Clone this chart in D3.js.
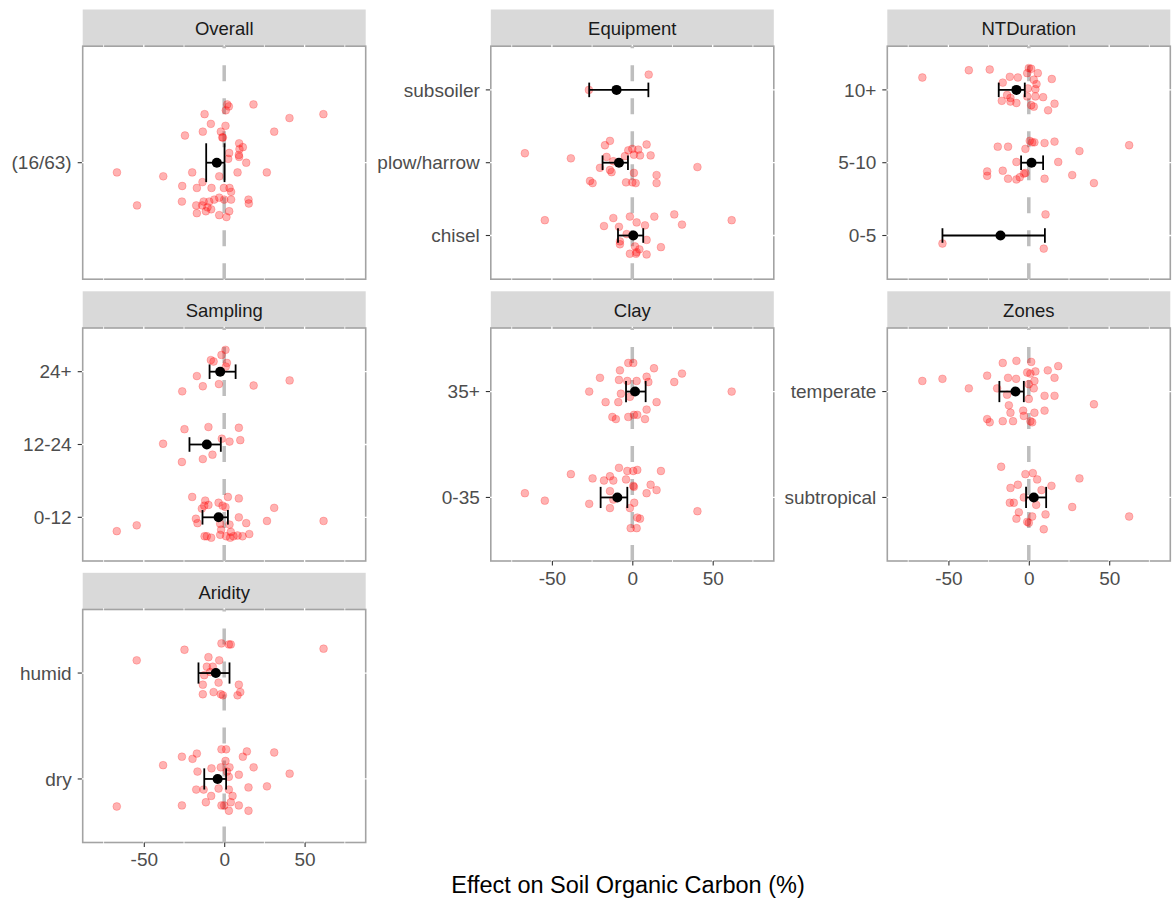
<!DOCTYPE html>
<html>
<head>
<meta charset="utf-8">
<script src="https://cdn.jsdelivr.net/npm/d3@7"></script>
<style>
  body { margin: 0; background: #fff; }
  svg { font-family: "Liberation Sans", Arial, sans-serif; }
</style>
</head>
<body>
<div id="chart"></div>
<script>
// x axis
var xDomain = [-88, 88];
var xTicks = [-50, 0, 50];
var xMinor = [-75, -25, 25, 75];

// facet titles, in layout order
var facetNames = ["Overall", "Equipment", "NTDuration", "Sampling", "Clay", "Zones", "Aridity"];

// categories (bottom to top) and mean / CI per category
var overallCats = ["(16/63)"];
var overallMean = [-4.6], overallLo = [-11.2], overallHi = [0.2];

var equipmentCats = ["chisel", "plow/harrow", "subsoiler"];
var equipmentMean = [0.6, -8.3, -9.8], equipmentLo = [-8.9, -18.5, -26.8], equipmentHi = [6.8, -2.7, 10.0];

var durationCats = ["0-5", "5-10", "10+"];
var durationMean = [-17.6, 1.7, -7.7], durationLo = [-53.7, -4.8, -18.7], durationHi = [10.0, 8.9, -2.5];

var samplingCats = ["0-12", "12-24", "24+"];
var samplingMean = [-3.5, -10.8, -2.5], samplingLo = [-13.5, -21.6, -9.1], samplingHi = [2.3, -2.1, 7.1];

var clayCats = ["0-35", "35+"];
var clayMean = [-9.3, 1.7], clayLo = [-19.7, -3.9], clayHi = [-3.1, 8.3];

var zonesCats = ["subtropical", "temperate"];
var zonesMean = [3.1, -8.3], zonesLo = [-1.7, -18.3], zonesHi = [10.8, -3.1];

var aridityCats = ["dry", "humid"];
var aridityMean = [-4.1, -5.2], aridityLo = [-12.4, -16.0], aridityHi = [1.2, 3.3];

// observations per category: [effect, vertical jitter in category units]
var overallPts = [[
  [1.9,.30],[2.9,.29],[1.0,.27],[18.2,.30],[61.7,.25],[-12.2,.25],[40.6,.23],[-8.3,.20],[0.8,.19],[-2.1,.16],
  [-13.3,.16],[-24.4,.14],[31.1,.16],[-0.8,.13],[-1.2,.13],[9.3,.10],[11.6,.08],[9.5,.07],[3.1,.05],[9.1,.04],
  [9.3,.03],[13.7,0],[2.5,.02],[8.3,-.05],[26.5,-.05],[-66.7,-.05],[-37.9,-.07],[-19.9,-.05],[-3.1,-.07],[-13.5,-.10],
  [-26.1,-.12],[-17.0,-.13],[-7.9,-.13],[-0.2,-.13],[3.3,-.13],[4.3,-.15],[-54.2,-.22],[-26.3,-.20],[-12.8,-.20],[-9.3,-.20],
  [-6.2,-.19],[-3.1,-.18],[0,-.19],[4.3,-.19],[15.1,-.19],[15.3,-.21],[-17.4,-.22],[-13.7,-.22],[-10.4,-.23],[-8.1,-.24],
  [-17.0,-.26],[-11.4,-.25],[-3.1,-.27],[1.4,-.28],[3.1,-.25]
]];

var equipmentPts = [
  [[-54.4,.21],[-11.8,.24],[-1.5,.26],[13.7,.26],[26.1,.29],[61.8,.21],[-17.6,.13],[-8.3,.12],[2.7,.18],[7.9,.14],
   [30.9,.15],[-3.5,.02],[-7.7,-.08],[-7.7,-.12],[8.9,-.06],[1.7,-.15],[4.4,-.19],[17.8,-.16],[-1.5,-.25],[2.3,-.25],
   [8.9,-.26],[2.7,-.23]],
  [[-66.8,.13],[-38.2,.06],[-17.0,.24],[-13.9,.30],[-2.5,.17],[0,.19],[3.7,.18],[8.9,.25],[4.8,.10],[11.4,.10],
   [1.0,.11],[-16.0,.08],[-4.6,.09],[40.5,-.06],[-20.1,-.07],[-13.9,-.10],[-12.9,-.13],[1.0,-.14],[15.1,-.17],[-26.3,-.25],
   [-24.7,-.28],[-3.9,-.27],[0,-.27],[2.1,-.28],[15.1,-.28],[-11.8,.02]],
  [[10.2,.21],[-27.0,0]]
];

var durationPts = [
  [[10.4,.29],[-53.7,-.11],[9.3,-.18]],
  [[-19.3,.22],[-12.9,.22],[0.6,.30],[2.1,.28],[3.5,.28],[9.8,.27],[16.0,.29],[62.4,.24],[-2.1,.19],[31.5,.16],
   [18.3,.01],[-7.7,.01],[-25.9,-.12],[-25.9,-.18],[-16.2,-.11],[-12.9,-.22],[-7.7,-.23],[-5.6,-.20],[-3.1,-.15],[-2.1,-.14],
   [9.8,-.22],[27.0,-.17],[40.5,-.28]],
  [[-66.2,.17],[-37.3,.27],[-24.3,.28],[0,.30],[1.5,.29],[-1.0,.23],[5.6,.23],[-11.8,.18],[-6.8,.17],[-16.2,.10],
   [3.1,.14],[14.3,.15],[4.8,.08],[4.1,.01],[-0.6,.02],[-13.5,-.07],[-11.4,-.11],[-16.8,-.15],[-11.4,-.16],[-7.7,-.18],
   [4.1,-.09],[8.9,-.10],[1.5,-.21],[3.1,-.23],[16.0,-.19],[12.0,-.28],[-1.0,-.09]]
];

var samplingPts = [
  [[-19.9,.28],[-11.8,.23],[-3.5,.20],[2.3,.28],[9.1,.26],[31.1,.13],[-12.4,.16],[-9.8,.17],[-13.9,.12],[-1.0,.16],
   [0.8,.14],[-17.6,-.02],[-16.6,-.08],[9.1,0],[13.7,-.08],[26.6,-.05],[61.8,-.05],[-66.8,-.19],[-54.4,-.11],[-2.5,-.09],
   [3.3,-.10],[-1.9,-.17],[-12.2,-.26],[-10.8,-.26],[-8.1,-.28],[-2.5,-.24],[1.2,-.26],[3.7,-.28],[5.8,-.26],[8.3,-.25],
   [11.4,-.26],[15.6,-.23],[4.1,-.20]],
  [[-9.8,.24],[-24.7,.21],[9.1,.23],[10.0,.06],[3.3,.04],[-1.5,.08],[-38.0,.01],[-7.3,-.14],[-13.3,-.20],[-26.3,-.24]],
  [[0.8,.30],[-1.7,.23],[-8.3,.16],[-6.6,.14],[1.7,.12],[1.0,.07],[-17.0,-.06],[-3.3,-.17],[-13.3,-.20],[18.3,-.19],
   [40.7,-.12],[-26.1,-.27]]
];

var clayPts = [
  [[-8.3,.28],[-3.1,.25],[0.6,.25],[3.1,.26],[17.8,.25],[-38.2,.22],[-24.7,.18],[-13.9,.20],[-17.6,.16],[-11.8,.16],
   [-3.9,.17],[0.6,.11],[1.0,.10],[11.4,.12],[15.1,.07],[-13.9,.06],[-66.8,.04],[8.9,.04],[-54.4,-.03],[-26.8,-.06],
   [1.2,-.05],[-13.9,-.10],[-1.5,-.10],[40.5,-.13],[3.1,-.19],[4.8,-.20],[-1.0,-.29],[2.7,-.29],[-11.8,-.02]],
  [[-2.5,.27],[0.6,.27],[13.5,.22],[-7.7,.20],[30.9,.17],[-20.1,.13],[-8.3,.11],[-3.1,.10],[2.7,.10],[8.9,.14],
   [10.0,.09],[26.1,.09],[-26.8,0],[-7.1,-.02],[-1.5,-.05],[61.8,0],[-16.6,-.10],[-8.7,-.10],[15.1,-.10],[8.9,-.17],
   [-12.4,-.24],[-10.2,-.26],[-2.5,-.24],[1.0,-.22],[3.1,-.22],[7.9,-.26]]
];

var zonesPts = [
  [[-17.2,.29],[-2.1,.22],[2.5,.23],[5.2,.17],[31.5,.18],[-6.8,.12],[-11.4,.09],[7.9,.07],[14.1,.11],[-3.1,0],
   [-11.8,-.05],[-9.3,-.05],[4.6,-.07],[27.0,-.09],[-6.2,-.14],[2.1,-.18],[10.4,-.16],[62.4,-.18],[-7.7,-.20],[-1.0,-.23],
   [0,-.24],[9.3,-.30]],
  [[-7.7,.29],[-16.2,.27],[1.5,.28],[18.3,.24],[11.8,.20],[4.1,.19],[-1.0,.18],[1.0,.17],[-25.9,.15],[-12.9,.13],
   [-7.9,.12],[16.0,.13],[-53.7,.12],[-66.2,.10],[3.5,.10],[0,.07],[-37.3,.03],[-19.7,.03],[3.1,.03],[-13.5,-.03],
   [9.8,-.04],[16.0,-.04],[0,-.07],[-12.4,-.13],[40.5,-.12],[-3.5,-.18],[-11.4,-.20],[-3.1,-.23],[3.5,-.20],[9.8,-.18],
   [-25.9,-.26],[-24.3,-.29],[-16.2,-.28],[-9.8,-.28],[1.0,-.28],[2.1,-.29]]
];

var aridityPts = [
  [[-1.7,.28],[1.2,.28],[14.1,.26],[31.1,.25],[-17.0,.24],[-26.3,.21],[-19.7,.19],[11.6,.21],[0.8,.17],[-38.0,.13],
   [18.3,.11],[40.7,.05],[-7.9,.10],[-2.1,.11],[3.3,.11],[-16.6,.07],[1.7,.07],[9.1,.04],[2.9,.02],[2.9,-.10],
   [-3.5,-.09],[-12.8,-.10],[-17.4,-.10],[15.1,-.08],[26.6,-.07],[-8.1,-.16],[5.2,-.16],[-11.4,-.22],[-1.7,-.25],[0,-.25],
   [4.1,-.22],[9.1,-.25],[-26.3,-.25],[-66.8,-.26],[2.9,-.30],[15.1,-.30]],
  [[-1.7,.28],[2.9,.27],[4.1,.27],[-24.7,.22],[61.8,.23],[-54.4,.12],[-9.8,.15],[-3.1,.12],[-7.1,.06],[-10.8,.06],
   [-8.7,.01],[-12.4,-.02],[-3.5,-.09],[-13.3,-.11],[9.1,-.11],[10.0,-.18],[8.3,-.21],[-6.6,-.18],[-13.3,-.20],[-2.1,-.20],
   [-0.8,-.21]]
];

var facets = [
  { cats: overallCats, mean: overallMean, lo: overallLo, hi: overallHi, pts: overallPts },
  { cats: equipmentCats, mean: equipmentMean, lo: equipmentLo, hi: equipmentHi, pts: equipmentPts },
  { cats: durationCats, mean: durationMean, lo: durationLo, hi: durationHi, pts: durationPts },
  { cats: samplingCats, mean: samplingMean, lo: samplingLo, hi: samplingHi, pts: samplingPts },
  { cats: clayCats, mean: clayMean, lo: clayLo, hi: clayHi, pts: clayPts },
  { cats: zonesCats, mean: zonesMean, lo: zonesLo, hi: zonesHi, pts: zonesPts },
  { cats: aridityCats, mean: aridityMean, lo: aridityLo, hi: aridityHi, pts: aridityPts }
];

// layout
var width = 1172, height = 900;
var colLeft = [82.7, 490.8, 887.3];
var rowTop = [9.5, 291.3, 572.8];
var panelW = 283, stripH = 36.7, panelH = 233;
var bottomAxis = { 4: true, 5: true, 6: true };

var svg = d3.select("#chart").append("svg")
  .attr("width", width)
  .attr("height", height);

facets.forEach(function (f, i) {
  var col = i % 3, row = Math.floor(i / 3);
  var left = colLeft[col];
  var top = rowTop[row] + stripH;
  var g = svg.append("g");

  var x = d3.scaleLinear().domain(xDomain).range([left, left + panelW]);
  var n = f.cats.length;
  var y = d3.scaleLinear().domain([0.4, n + 0.6]).range([top + panelH, top]);

  // strip
  g.append("rect")
    .attr("x", left).attr("y", rowTop[row])
    .attr("width", panelW).attr("height", stripH)
    .attr("fill", "#d9d9d9");
  g.append("text")
    .attr("x", left + panelW / 2).attr("y", rowTop[row] + stripH / 2 + 1)
    .attr("dy", "0.35em")
    .attr("text-anchor", "middle")
    .attr("font-size", 18.5)
    .attr("fill", "#1a1a1a")
    .text(facetNames[i]);

  // panel border with white grid lines over it
  g.append("rect")
    .attr("x", left).attr("y", top)
    .attr("width", panelW).attr("height", panelH)
    .attr("fill", "#fff")
    .attr("stroke", "#a3a3a3")
    .attr("stroke-width", 1.6);
  g.selectAll(".vgrid")
    .data(xTicks.concat(xMinor))
    .enter().append("line")
    .attr("x1", function (d) { return x(d); })
    .attr("x2", function (d) { return x(d); })
    .attr("y1", top - 1.5).attr("y2", top + panelH + 1.5)
    .attr("stroke", "#fff")
    .attr("stroke-width", function (d) { return xTicks.indexOf(d) >= 0 ? 1.3 : 0.8; });
  g.selectAll(".hgrid")
    .data(f.cats)
    .enter().append("line")
    .attr("x1", left - 1.5).attr("x2", left + panelW + 1.5)
    .attr("y1", function (d, k) { return y(k + 1); })
    .attr("y2", function (d, k) { return y(k + 1); })
    .attr("stroke", "#fff")
    .attr("stroke-width", 1.3);

  // zero line
  g.append("line")
    .attr("x1", x(0)).attr("x2", x(0))
    .attr("y1", top + panelH).attr("y2", top)
    .attr("stroke", "#bebebe")
    .attr("stroke-width", 3.5)
    .attr("stroke-dasharray", "16,17");

  // y axis
  var ya = g.append("g");
  f.cats.forEach(function (c, k) {
    ya.append("line")
      .attr("x1", left - 5).attr("x2", left - 0.8)
      .attr("y1", y(k + 1)).attr("y2", y(k + 1))
      .attr("stroke", "#333").attr("stroke-width", 1.1);
    ya.append("text")
      .attr("x", left - 11).attr("y", y(k + 1))
      .attr("dy", "0.35em")
      .attr("text-anchor", "end")
      .attr("font-size", 19)
      .attr("fill", "#4d4d4d")
      .text(c);
  });

  // x axis only on the bottom panels
  if (bottomAxis[i]) {
    var xa = g.append("g")
      .attr("transform", "translate(0," + (top + panelH) + ")")
      .call(d3.axisBottom(x).tickValues(xTicks)
        .tickFormat(function (d) { return String(d); })
        .tickSize(4.5).tickPadding(6));
    xa.select(".domain").remove();
    xa.selectAll(".tick line").attr("stroke", "#333").attr("stroke-width", 1.1);
    xa.selectAll(".tick text")
      .attr("font-size", 19)
      .attr("font-family", "Liberation Sans, Arial, sans-serif")
      .attr("fill", "#4d4d4d");
  }

  // observations
  f.pts.forEach(function (arr, k) {
    g.selectAll(".p" + k)
      .data(arr)
      .enter().append("circle")
      .attr("cx", function (d) { return x(d[0]); })
      .attr("cy", function (d) { return y(k + 1 + d[1]); })
      .attr("r", 3.9)
      .attr("fill", "rgba(255,0,0,0.3)")
      .attr("stroke", "rgba(255,0,0,0.25)")
      .attr("stroke-width", 0.8);
  });

  // mean and error bar
  f.cats.forEach(function (c, k) {
    var yc = y(k + 1);
    var cap = Math.abs(y(k + 1.1) - yc);
    g.append("line")
      .attr("x1", x(f.lo[k])).attr("x2", x(f.hi[k]))
      .attr("y1", yc).attr("y2", yc)
      .attr("stroke", "#000").attr("stroke-width", 1.8);
    [f.lo[k], f.hi[k]].forEach(function (v) {
      g.append("line")
        .attr("x1", x(v)).attr("x2", x(v))
        .attr("y1", yc - cap).attr("y2", yc + cap)
        .attr("stroke", "#000").attr("stroke-width", 1.8);
    });
    g.append("circle")
      .attr("cx", x(f.mean[k])).attr("cy", yc)
      .attr("r", 5)
      .attr("fill", "#000");
  });
});

// shared x title
svg.append("text")
  .attr("x", 628).attr("y", 893)
  .attr("text-anchor", "middle")
  .attr("font-size", 23.5)
  .attr("fill", "#000")
  .text("Effect on Soil Organic Carbon (%)");
</script>
</body>
</html>
